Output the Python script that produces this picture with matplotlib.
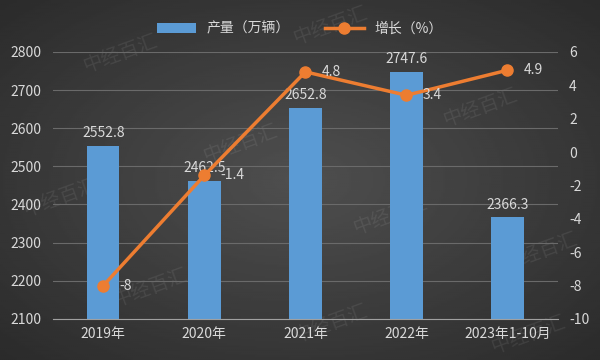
import numpy as np
import matplotlib.pyplot as plt

plt.rcParams['font.family'] = ['Noto Sans CJK SC', 'DejaVu Sans']
plt.rcParams['axes.unicode_minus'] = False

# 数据
years = ['2019年', '2020年', '2021年', '2022年', '2023年1-10月']
output = [2552.8, 2462.5, 2652.8, 2747.6, 2366.3]
growth = [-8, -1.4, 4.8, 3.4, 4.9]

txt = '#d9d9d9'
blue = '#5b9bd5'
orange = '#ed7d31'

fig = plt.figure(figsize=(6, 3.6), dpi=100)

# 背景渐变
bg = fig.add_axes([0, 0, 1, 1], zorder=-10)
yy, xx = np.mgrid[-1:1:200j, -1:1:300j]
r = np.sqrt(xx**2 + yy**2)
bg.imshow(0.31 - 0.10 * r, cmap='gray', vmin=0, vmax=1, aspect='auto',
          extent=[0, 1, 0, 1])
bg.axis('off')

# 水印
for wx, wy in [(0.2, 0.85), (0.55, 0.93), (0.4, 0.6), (0.8, 0.7), (0.1, 0.45),
               (0.65, 0.4), (0.25, 0.2), (0.9, 0.3), (0.55, 0.1), (0.88, 0.07)]:
    bg.text(wx, wy, '中经百汇', fontsize=14, color='white', alpha=0.08,
            rotation=20, ha='center', va='center', transform=bg.transAxes)

ax = fig.add_axes([0.088, 0.114, 0.842, 0.742])
ax.set_facecolor('none')
x = np.arange(len(years))
bars = ax.bar(x, output, width=0.32, color=blue, label='产量（万辆）', zorder=2)
ax.set_ylim(2100, 2800)
ax.set_yticks(range(2100, 2801, 100))
ax.set_xlim(-0.5, 4.5)
ax.set_xticks(x)
ax.set_xticklabels(years)
ax.grid(axis='y', color='#6a6a6a', linewidth=0.8, zorder=0)
for s in ['top', 'right', 'left']:
    ax.spines[s].set_visible(False)
ax.spines['bottom'].set_color('#a0a0a0')
ax.tick_params(colors=txt, labelsize=10, length=0, pad=8)
ax.tick_params(axis='x', pad=6)

for xi, v in zip(x, output):
    ax.text(xi, v + 15, f'{v:.1f}', ha='center', va='bottom', color=txt, fontsize=10, zorder=5)

ax2 = ax.twinx()
ax2.set_ylim(-10, 6)
ax2.set_yticks(range(-10, 7, 2))
line, = ax2.plot(x, growth, color=orange, linewidth=2.5, marker='o', markersize=8,
                 label='增长（%）', zorder=4)
for s in ['top', 'right', 'left', 'bottom']:
    ax2.spines[s].set_visible(False)
ax2.tick_params(colors=txt, labelsize=10, length=0, pad=8)
for xi, v in zip(x, growth):
    ax2.text(xi + 0.16, v, f'{v:g}', ha='left', va='center', color=txt, fontsize=10, zorder=5)

fig.legend(handles=[bars, line], loc='upper center', bbox_to_anchor=(0.5, 0.975),
           ncol=2, frameon=False, fontsize=10, labelcolor=txt, handlelength=2.8,
           columnspacing=2.5)

fig.savefig('out.png', dpi=100)
